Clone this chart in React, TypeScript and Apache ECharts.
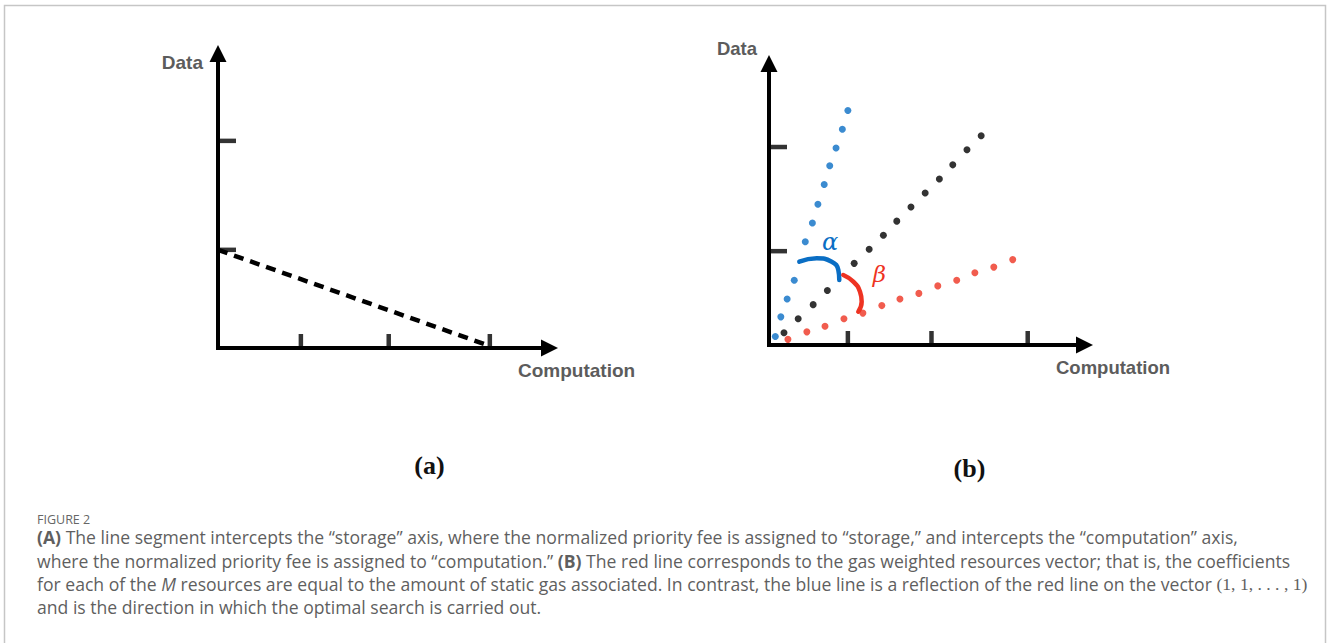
import React, { useEffect, useRef } from "react";
import * as echarts from "echarts";

// Tick positions on the axes (same relative places in both panels)
const xTicks = [1, 2.06, 3.28];
const yTicks = [1, 2.11];

// Panel (a): dashed priority-fee segment
const feeSegment = [
  [0, 1.0],
  [3.28, 0.02],
];

// Panel (b): dotted vectors
const blueDots = [
  [0.08, 0.09], [0.15, 0.3], [0.23, 0.49], [0.32, 0.69], [0.46, 1.1], [0.55, 1.3],
  [0.62, 1.5], [0.7, 1.71], [0.77, 1.91], [0.85, 2.1], [0.93, 2.3], [1.0, 2.5],
];
const blackDots = [
  [0.19, 0.13], [0.37, 0.28], [0.56, 0.43], [0.74, 0.58], [1.08, 0.87], [1.27, 1.02],
  [1.45, 1.17], [1.62, 1.32], [1.8, 1.47], [1.98, 1.62], [2.16, 1.77], [2.33, 1.92],
  [2.51, 2.08], [2.69, 2.23],
];
const redDots = [
  [0.24, 0.06], [0.48, 0.14], [0.71, 0.2], [0.95, 0.28], [1.19, 0.34], [1.43, 0.42],
  [1.66, 0.49], [1.9, 0.55], [2.14, 0.63], [2.38, 0.69], [2.61, 0.77], [2.85, 0.83],
  [3.09, 0.91],
];
const alphaArc = [
  [0.384, 0.888], [0.605, 0.924], [0.795, 0.888], [0.879, 0.799], [0.891, 0.693],
];
const betaArc = [
  [0.942, 0.746], [1.069, 0.675], [1.154, 0.568], [1.175, 0.461], [1.132, 0.355],
];

const captionTitle = "FIGURE 2";
const captionLines = [
  "{b|(A)} The line segment intercepts the “storage” axis, where the normalized priority fee is assigned to “storage,” and intercepts the “computation” axis,",
  "where the normalized priority fee is assigned to “computation.” {b|(B)} The red line corresponds to the gas weighted resources vector; that is, the coefficients",
  "for each of the {i|M} resources are equal to the amount of static gas associated. In contrast, the blue line is a reflection of the red line on the vector {m|(1, 1, . . . , 1)}",
  "and is the direction in which the optimal search is carried out.",
];

const BLUE = "#0a6ec4";
const RED = "#ee3322";
const LABEL_GRAY = "#5c5c5c";
const CAP_GRAY = "#5f5f5f";
const CAP_SIZE = 17.6;

function axisPair(gridIndex: number) {
  const axisLine = {
    show: true,
    onZero: false,
    symbol: ["none", "triangle"],
    symbolSize: [17, 17],
    lineStyle: { color: "#000", width: 4, cap: "square" },
  };
  return {
    x: {
      type: "value",
      gridIndex,
      min: 0,
      max: 4,
      axisLine,
      axisTick: { show: false },
      axisLabel: { show: false },
      splitLine: { show: false },
    },
    y: {
      type: "value",
      gridIndex,
      min: 0,
      max: 3,
      axisLine,
      axisTick: { show: false },
      axisLabel: { show: false },
      splitLine: { show: false },
    },
  };
}

function tickSeries(idx: number, tickLen: number) {
  return [
    {
      type: "scatter",
      xAxisIndex: idx,
      yAxisIndex: idx,
      data: xTicks.map((v) => [v, 0]),
      symbol: "rect",
      symbolSize: [4.5, tickLen],
      symbolOffset: [0, -tickLen / 2],
      itemStyle: { color: "#000" },
      clip: false,
      silent: true,
      z: 5,
    },
    {
      type: "scatter",
      xAxisIndex: idx,
      yAxisIndex: idx,
      data: yTicks.map((v) => [0, v]),
      symbol: "rect",
      symbolSize: [tickLen + 4, 4.5],
      symbolOffset: [(tickLen + 4) / 2, 0],
      itemStyle: { color: "#000" },
      clip: false,
      silent: true,
      z: 5,
    },
  ];
}

function dots(idx: number, data: number[][], color: string) {
  return {
    type: "scatter",
    xAxisIndex: idx,
    yAxisIndex: idx,
    data,
    symbol: "circle",
    symbolSize: 7,
    itemStyle: { color },
    clip: false,
    silent: true,
  };
}

function arc(idx: number, data: number[][], color: string) {
  return {
    type: "line",
    xAxisIndex: idx,
    yAxisIndex: idx,
    data,
    smooth: 0.5,
    symbol: "none",
    lineStyle: { color, width: 4.5, cap: "round" },
    clip: false,
    silent: true,
    z: 4,
  };
}

export default function App() {
  const ref = useRef<HTMLDivElement>(null);

  useEffect(() => {
    if (!ref.current) return;
    const chart = echarts.init(ref.current, undefined, { renderer: "svg" });
    const a = axisPair(0);
    const b = axisPair(1);

    const labelFont = (size: number) => ({
      fontFamily: "Liberation Sans, Arial, sans-serif",
      fontWeight: "bold",
      fontSize: size,
      fill: LABEL_GRAY,
    });

    const graphic: any[] = [
      {
        type: "rect",
        shape: { x: 4.5, y: 5.5, width: 1321, height: 700 },
        style: { fill: "none", stroke: "#c6c6c6", lineWidth: 1.5 },
        silent: true,
      },
      { type: "text", x: 203, y: 62, style: { text: "Data", textAlign: "right", textVerticalAlign: "middle", ...labelFont(19) } },
      { type: "text", x: 518, y: 370, style: { text: "Computation", textAlign: "left", textVerticalAlign: "middle", ...labelFont(19) } },
      { type: "text", x: 757, y: 48, style: { text: "Data", textAlign: "right", textVerticalAlign: "middle", ...labelFont(18.5) } },
      { type: "text", x: 1056, y: 367, style: { text: "Computation", textAlign: "left", textVerticalAlign: "middle", ...labelFont(18.5) } },
      {
        type: "text", x: 830, y: 242,
        style: { text: "α", textAlign: "center", textVerticalAlign: "middle", fontFamily: "DejaVu Serif", fontStyle: "italic", fontSize: 24, fill: BLUE },
      },
      {
        type: "text", x: 879.5, y: 273.5,
        style: { text: "β", textAlign: "center", textVerticalAlign: "middle", fontFamily: "DejaVu Serif", fontStyle: "italic", fontSize: 23, fill: RED },
      },
      {
        type: "text", x: 429.5, y: 465,
        style: { text: "(a)", textAlign: "center", textVerticalAlign: "middle", fontFamily: "Liberation Serif", fontWeight: "bold", fontSize: 26, fill: "#111" },
      },
      {
        type: "text", x: 969.5, y: 468,
        style: { text: "(b)", textAlign: "center", textVerticalAlign: "middle", fontFamily: "Liberation Serif", fontWeight: "bold", fontSize: 26, fill: "#111" },
      },
      {
        type: "text", x: 37, y: 519,
        style: { text: captionTitle, textAlign: "left", textVerticalAlign: "middle", fontFamily: "Open Sans", fontSize: 12.5, fill: "#666" },
      },
    ];

    const capY = [537, 560.5, 584, 607];
    captionLines.forEach((line, i) => {
      graphic.push({
        type: "text",
        x: 37,
        y: capY[i],
        style: {
          text: line,
          textAlign: "left",
          textVerticalAlign: "middle",
          fontFamily: "Open Sans",
          fontSize: CAP_SIZE,
          fill: CAP_GRAY,
          rich: {
            b: { fontFamily: "Open Sans", fontSize: CAP_SIZE, fontWeight: "bold", fill: CAP_GRAY },
            i: { fontFamily: "Open Sans", fontSize: CAP_SIZE, fontStyle: "italic", fill: CAP_GRAY },
            m: { fontFamily: "Liberation Serif", fontSize: CAP_SIZE, fill: CAP_GRAY },
          },
        },
      });
    });

    chart.setOption({
      animation: false,
      backgroundColor: "#ffffff",
      grid: [
        { left: 218, top: 53.5, width: 331.5, height: 294.5 },
        { left: 769, top: 63.5, width: 315.5, height: 281.5 },
      ],
      xAxis: [a.x, b.x],
      yAxis: [a.y, b.y],
      series: [
        ...tickSeries(0, 14),
        {
          type: "line",
          xAxisIndex: 0,
          yAxisIndex: 0,
          data: feeSegment,
          symbol: "none",
          lineStyle: { color: "#000", width: 4.5, type: [10, 7] },
          silent: true,
        },
        ...tickSeries(1, 14),
        dots(1, blueDots, BLUE),
        dots(1, blackDots, "#000"),
        dots(1, redDots, RED),
        arc(1, alphaArc, BLUE),
        arc(1, betaArc, RED),
      ],
      graphic,
    });

    return () => {
      chart.dispose();
    };
  }, []);

  return (
    <div
      ref={ref}
      style={{ position: "absolute", left: 0, top: 0, width: 1328, height: 643 }}
    />
  );
}
